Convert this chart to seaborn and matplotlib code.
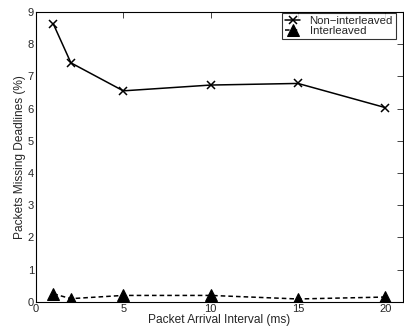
import matplotlib
matplotlib.use("Agg")
import matplotlib.pyplot as plt
import seaborn as sns

# data
interval_ms = [1, 2, 5, 10, 15, 20]
non_interleaved = [8.62, 7.42, 6.55, 6.73, 6.78, 6.03]
interleaved = [0.25, 0.10, 0.20, 0.20, 0.09, 0.15]

sns.set_style("white")
plt.rcParams["font.family"] = ["Liberation Sans", "DejaVu Sans"]
plt.rcParams["xtick.direction"] = "in"
plt.rcParams["ytick.direction"] = "in"

fig = plt.figure(figsize=(4.04, 3.31), dpi=100)
ax = fig.add_axes([0.089, 0.088, 0.908, 0.876])

# seaborn won't mix filled and line-art markers in one call, so two calls
sns.lineplot(x=interval_ms, y=non_interleaved, color="black", marker="x",
             markersize=6, markeredgewidth=1.1, markeredgecolor="black",
             linewidth=1.1, label="Non\u2212interleaved", ax=ax)
sns.lineplot(x=interval_ms, y=interleaved, color="black", marker="^",
             markersize=9, markeredgecolor="black", linestyle=(0, (3, 2)),
             linewidth=1.1, label="Interleaved", ax=ax)

ax.set_xlim(0, 21)
ax.set_ylim(0, 9)
ax.set_xticks([0, 5, 10, 15, 20])
ax.set_yticks(range(0, 10))
ax.tick_params(labelsize=8, length=4, width=0.6, top=True, right=True, pad=1.5)
for s in ax.spines.values():
    s.set_color("black")
    s.set_linewidth(0.8)
ax.set_xlabel("Packet Arrival Interval (ms)", fontsize=8.6, labelpad=0)
ax.set_ylabel("Packets Missing Deadlines (%)", fontsize=8.6, labelpad=1)

leg = ax.legend(loc="upper right", bbox_to_anchor=(0.981, 0.997),
                fontsize=8.2, frameon=True, fancybox=False,
                edgecolor="black", borderpad=0.25, handlelength=1.4,
                labelspacing=0.05, borderaxespad=0, handletextpad=0.8)
leg.get_frame().set_linewidth(0.8)

fig.savefig("out.png", dpi=100)
